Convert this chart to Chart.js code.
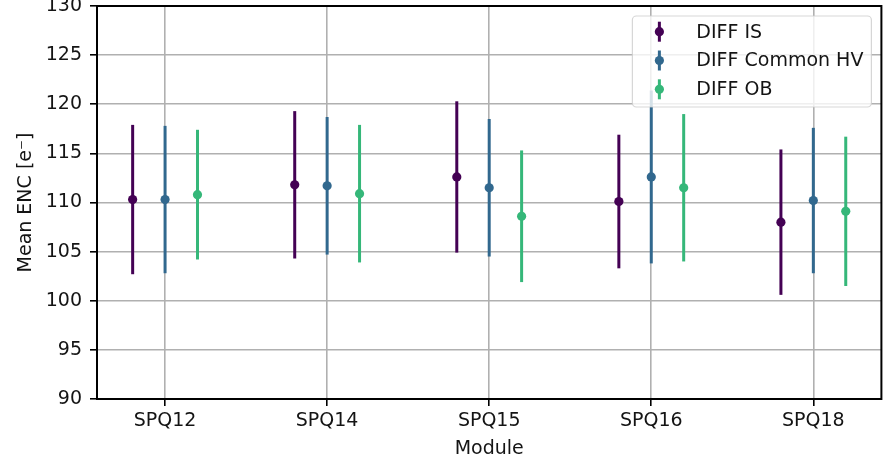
<!DOCTYPE html>
<html>
<head>
<meta charset="utf-8">
<script src="https://cdn.jsdelivr.net/npm/chart.js@4.4.1/dist/chart.umd.min.js"></script>
<style>
  html, body { margin: 0; padding: 0; background: #fff; }
  #wrap { width: 886px; height: 456px; }
</style>
</head>
<body>
<div id="wrap"><canvas id="encChart" width="886" height="456"></canvas></div>
<script>
// data
const modules = ["SPQ12", "SPQ14", "SPQ15", "SPQ16", "SPQ18"];
const yTicks = [90, 95, 100, 105, 110, 115, 120, 125, 130];

const seriesNames = ["DIFF IS", "DIFF Common HV", "DIFF OB"];
const isMean = [110.3, 111.8, 112.6, 110.1, 108.0];
const isErr  = [7.6, 7.5, 7.7, 6.8, 7.4];
const hvMean = [110.3, 111.7, 111.5, 112.6, 110.2];
const hvErr  = [7.5, 7.0, 7.0, 8.8, 7.4];
const obMean = [110.8, 110.9, 108.6, 111.5, 109.1];
const obErr  = [6.6, 7.0, 6.7, 7.5, 7.6];

const colors = ['#440154', '#31688e', '#35b779'];
const FONT = "'DejaVu Sans', sans-serif";
const TEXT = '#141414';

function makeSet(i, means, errs, shift) {
    return {
        label: seriesNames[i],
        data: means.map((v, j) => ({ x: j + shift, y: v })),
        errors: errs,
        borderColor: colors[i],
        backgroundColor: colors[i],
        pointRadius: 4.6,
        pointHoverRadius: 4.6,
        pointBorderWidth: 0,
        showLine: false
    };
}

// vertical error bars, drawn under the markers
const errorBars = {
    id: 'errorBars',
    beforeDatasetsDraw(chart) {
        const ctx = chart.ctx, ys = chart.scales.y;
        chart.data.datasets.forEach((ds, i) => {
            const meta = chart.getDatasetMeta(i);
            ctx.save();
            ctx.strokeStyle = ds.borderColor;
            ctx.lineWidth = 3;
            ctx.lineCap = 'butt';
            meta.data.forEach((pt, j) => {
                const v = ds.data[j].y, e = ds.errors[j];
                ctx.beginPath();
                ctx.moveTo(pt.x, ys.getPixelForValue(v - e));
                ctx.lineTo(pt.x, ys.getPixelForValue(v + e));
                ctx.stroke();
            });
            ctx.restore();
        });
    },
    afterDatasetsDraw(chart) {
        // axes frame (all four spines)
        const { left, right, top, bottom } = chart.chartArea;
        const ctx = chart.ctx;
        ctx.save();
        ctx.strokeStyle = '#000';
        ctx.lineWidth = 2;
        ctx.strokeRect(left, top, right - left, bottom - top);
        ctx.restore();
    }
};

// matplotlib-like legend box in the upper right corner
const boxLegend = {
    id: 'boxLegend',
    afterDraw(chart) {
        const ctx = chart.ctx, area = chart.chartArea;
        ctx.save();
        ctx.font = '19px ' + FONT;
        const maxText = Math.max(...chart.data.datasets.map(d => ctx.measureText(d.label).width));
        const w = 64 + maxText + 8, h = 91;
        const bx = area.right - 10 - w, by = area.top + 10;
        ctx.beginPath();
        ctx.roundRect(bx, by, w, h, 4);
        ctx.fillStyle = 'rgba(255,255,255,0.8)';
        ctx.fill();
        ctx.strokeStyle = 'rgba(204,204,204,0.8)';
        ctx.lineWidth = 1.2;
        ctx.stroke();
        chart.data.datasets.forEach((ds, i) => {
            const cy = by + 15.7 + i * 28.8, mx = bx + 27;
            ctx.strokeStyle = ds.borderColor;
            ctx.lineWidth = 3;
            ctx.beginPath();
            ctx.moveTo(mx, cy - 10);
            ctx.lineTo(mx, cy + 10);
            ctx.stroke();
            ctx.fillStyle = ds.borderColor;
            ctx.beginPath();
            ctx.arc(mx, cy, 4.6, 0, Math.PI * 2);
            ctx.fill();
            ctx.fillStyle = TEXT;
            ctx.textBaseline = 'middle';
            ctx.textAlign = 'left';
            ctx.fillText(ds.label, bx + 64, cy + 1);
        });
        ctx.restore();
    }
};

new Chart(document.getElementById('encChart'), {
    type: 'scatter',
    data: {
        datasets: [
            makeSet(0, isMean, isErr, -0.2),
            makeSet(1, hvMean, hvErr, 0),
            makeSet(2, obMean, obErr, 0.2)
        ]
    },
    options: {
        responsive: false,
        animation: false,
        devicePixelRatio: 1,
        layout: { padding: { top: 6, right: 2, left: 0, bottom: 0 } },
        plugins: { legend: { display: false }, tooltip: { enabled: false } },
        scales: {
            x: {
                type: 'linear',
                min: -0.42,
                max: 4.42,
                afterBuildTicks: axis => { axis.ticks = modules.map((m, i) => ({ value: i })); },
                afterFit: axis => {
                    axis.height = 57;
                    axis.paddingLeft = 0;
                    axis.paddingRight = 0;
                },
                ticks: {
                    callback: v => modules[v],
                    color: TEXT,
                    font: { family: FONT, size: 19 },
                    padding: 4,
                    maxRotation: 0
                },
                grid: { color: '#b0b0b0', lineWidth: 1.6, tickLength: 7, tickColor: '#000', tickWidth: 1.6 },
                border: { display: false },
                title: {
                    display: true,
                    text: 'Module',
                    color: TEXT,
                    font: { family: FONT, size: 19 },
                    padding: { top: 0, bottom: -4 }
                }
            },
            y: {
                min: 90,
                max: 130,
                afterBuildTicks: axis => { axis.ticks = yTicks.map(v => ({ value: v })); },
                afterFit: axis => {
                    axis.width = 97;
                    axis.paddingTop = 0;
                    axis.paddingBottom = 0;
                },
                ticks: {
                    color: TEXT,
                    font: { family: FONT, size: 19 },
                    padding: 8
                },
                grid: { color: '#b0b0b0', lineWidth: 1.6, tickLength: 7, tickColor: '#000', tickWidth: 1.6 },
                border: { display: false },
                title: {
                    display: true,
                    text: 'Mean ENC [e\u207B]',
                    color: TEXT,
                    font: { family: FONT, size: 19 },
                    padding: { top: 15, bottom: 0 }
                }
            }
        }
    },
    plugins: [errorBars, boxLegend]
});
</script>
</body>
</html>
